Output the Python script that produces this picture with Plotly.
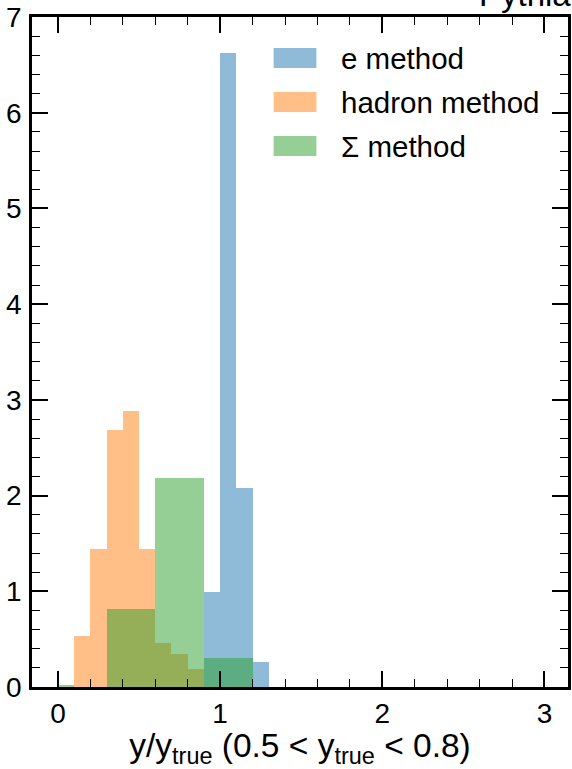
import plotly.graph_objects as go

# Histogram data (bin left edges, bin width 0.1)
bin_left = [0.0, 0.1, 0.2, 0.3, 0.4, 0.5, 0.6, 0.7, 0.8, 0.9, 1.0, 1.1, 1.2]
bin_width = 0.1
e_method = [0, 0, 0, 0, 0, 0, 0, 0, 0, 0.99, 6.62, 2.08, 0.265]
hadron_method = [0, 0.535, 1.44, 2.69, 2.88, 1.44, 0.455, 0.35, 0.185, 0, 0, 0, 0]
sigma_method = [0.02, 0, 0, 0.81, 0.81, 0.81, 2.185, 2.185, 2.185, 0.30, 0.30, 0.30, 0]

series = [
    ("e method", e_method, "rgba(31,119,180,0.5)"),
    ("hadron method", hadron_method, "rgba(255,127,14,0.5)"),
    ("\u03a3 method", sigma_method, "rgba(44,160,44,0.5)"),
]

centers = [b + bin_width / 2 for b in bin_left]
FONT = "Liberation Sans, Arial, Helvetica, sans-serif"

fig = go.Figure()
for name, vals, col in series:
    fig.add_trace(go.Bar(x=centers, y=vals, width=bin_width, name=name,
                         marker=dict(color=col, line=dict(width=0)),
                         showlegend=False))

# Manual legend (patches + labels)
L, T, W, H = 32, 17, 539, 670
def px(xp):
    return (xp - L) / W
def py(yp):
    return 1 - (yp - T) / H

legend_rows = [(58, series[0]), (102, series[1]), (146, series[2])]
for yc, (name, vals, col) in legend_rows:
    fig.add_shape(type="rect", xref="paper", yref="paper",
                  x0=px(275), x1=px(318), y0=py(yc + 10), y1=py(yc - 10),
                  fillcolor=col, line=dict(width=0))
    fig.add_annotation(xref="paper", yref="paper", x=px(341), y=py(yc),
                       text=name, showarrow=False, xanchor="left", yanchor="middle",
                       font=dict(size=29.5, color="black", family=FONT))

# Clipped header text
fig.add_annotation(xref="paper", yref="paper", x=px(479), y=py(-5),
                   text="Pythia 8", showarrow=False, xanchor="left", yanchor="middle",
                   font=dict(size=33, color="black", family=FONT))

axis_common = dict(
    showgrid=False, zeroline=False, showline=True, linecolor="black", linewidth=2.5,
    mirror="ticks", ticks="inside", ticklen=16, tickwidth=1.5, tickcolor="black",
    tickfont=dict(size=28, color="black", family=FONT),
)

fig.update_xaxes(range=[-0.16, 3.145], tickvals=[0, 1, 2, 3],
                 minor=dict(ticks="inside", dtick=0.2, tick0=0, ticklen=8,
                            tickwidth=1.2, tickcolor="black", showgrid=False),
                 title=dict(text="y/y<sub>true</sub> (0.5 < y<sub>true</sub> < 0.8)",
                            font=dict(size=33.5, color="black", family=FONT), standoff=6),
                 **axis_common)
fig.update_yaxes(range=[0, 7], tickvals=[0, 1, 2, 3, 4, 5, 6, 7],
                 minor=dict(ticks="inside", dtick=0.2, tick0=0, ticklen=8,
                            tickwidth=1.2, tickcolor="black", showgrid=False),
                 ticklabelstandoff=2,
                 **axis_common)

fig.update_layout(
    width=572, height=769,
    margin=dict(l=L, r=572 - L - W, t=T, b=769 - T - H, pad=0),
    barmode="overlay", bargap=0,
    plot_bgcolor="white", paper_bgcolor="white",
    font=dict(family=FONT, color="black"),
)

fig.write_html("out.html")
